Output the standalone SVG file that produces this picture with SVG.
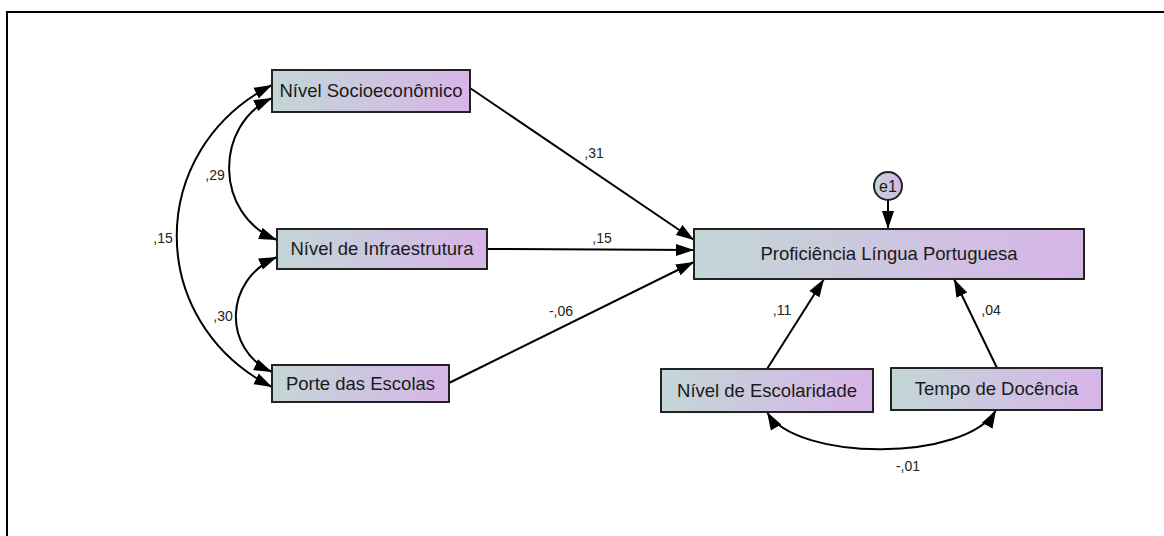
<svg xmlns="http://www.w3.org/2000/svg" width="1164" height="536" viewBox="0 0 1164 536">
<style>
.node{stroke:#222;stroke-width:2;fill:url(#grad)}
.nt{font-family:"Liberation Sans",Arial,sans-serif;font-size:18.5px;fill:#1a1a1a;text-anchor:middle}
.lb{font-family:"Liberation Sans",Arial,sans-serif;font-size:14px;fill:#222;text-anchor:middle}
.edge{fill:none;stroke:#000;stroke-width:2}
</style>
<defs>
<linearGradient id="grad" x1="0" y1="0" x2="1" y2="0">
<stop offset="0" stop-color="#c3d6d6"/>
<stop offset="1" stop-color="#d7b5e8"/>
</linearGradient>
<marker id="arr" markerUnits="userSpaceOnUse" markerWidth="19" markerHeight="13" refX="18" refY="6.5" orient="auto-start-reverse" viewBox="0 0 19 13">
<path d="M0,0.5 L18,6.5 L0,12.5 z" fill="#000"/>
</marker>
</defs>
<rect x="7" y="12" width="1170" height="540" fill="none" stroke="#000" stroke-width="2"/>
<g id="connectors">
<line class="edge" x1="470" y1="88" x2="694" y2="240" marker-end="url(#arr)"/>
<line class="edge" x1="487" y1="249" x2="694" y2="250" marker-end="url(#arr)"/>
<line class="edge" x1="449" y1="383" x2="694" y2="262" marker-end="url(#arr)"/>
<line class="edge" x1="767" y1="369" x2="824" y2="279" marker-end="url(#arr)"/>
<line class="edge" x1="997" y1="368" x2="954" y2="279" marker-end="url(#arr)"/>
<line class="edge" x1="888" y1="200" x2="888" y2="229" marker-end="url(#arr)"/>
<path class="edge" d="M272,85 C145,150 145,322 272,387" marker-start="url(#arr)" marker-end="url(#arr)"/>
<path class="edge" d="M272,98 C214,125 214,215 277,240" marker-start="url(#arr)" marker-end="url(#arr)"/>
<path class="edge" d="M277,257 C223,280 223,350 272,372" marker-start="url(#arr)" marker-end="url(#arr)"/>
<path class="edge" d="M767,412 C796,462 967,462 996,410" marker-start="url(#arr)" marker-end="url(#arr)"/>
<text class="lb" x="594" y="158">,31</text>
<text class="lb" x="602" y="243">,15</text>
<text class="lb" x="561" y="316">-,06</text>
<text class="lb" x="215" y="180">,29</text>
<text class="lb" x="163" y="243">,15</text>
<text class="lb" x="223" y="321">,30</text>
<text class="lb" x="782" y="315">,11</text>
<text class="lb" x="991" y="315">,04</text>
<text class="lb" x="908" y="471">-,01</text>
</g>
<g id="n-socio">
<rect class="node" x="272" y="70" width="198" height="42"/>
<text class="nt" x="371" y="97">Nível Socioeconômico</text>
</g>
<g id="n-infra">
<rect class="node" x="277" y="229" width="210" height="40"/>
<text class="nt" x="382" y="255">Nível de Infraestrutura</text>
</g>
<g id="n-porte">
<rect class="node" x="272" y="365" width="177" height="37"/>
<text class="nt" x="360.5" y="390">Porte das Escolas</text>
</g>
<g id="n-prof">
<rect class="node" x="694" y="229" width="390" height="50"/>
<text class="nt" x="889" y="260">Proficiência Língua Portuguesa</text>
</g>
<g id="n-e1">
<circle cx="888" cy="186" r="14" stroke="#222" stroke-width="2" fill="url(#grad)"/>
<text class="nt" x="888" y="192" style="font-size:16px">e1</text>
</g>
<g id="n-escol">
<rect class="node" x="661" y="369" width="212" height="43"/>
<text class="nt" x="767" y="397">Nível de Escolaridade</text>
</g>
<g id="n-tempo">
<rect class="node" x="891" y="368" width="211" height="42"/>
<text class="nt" x="996.5" y="395">Tempo de Docência</text>
</g>
</svg>
